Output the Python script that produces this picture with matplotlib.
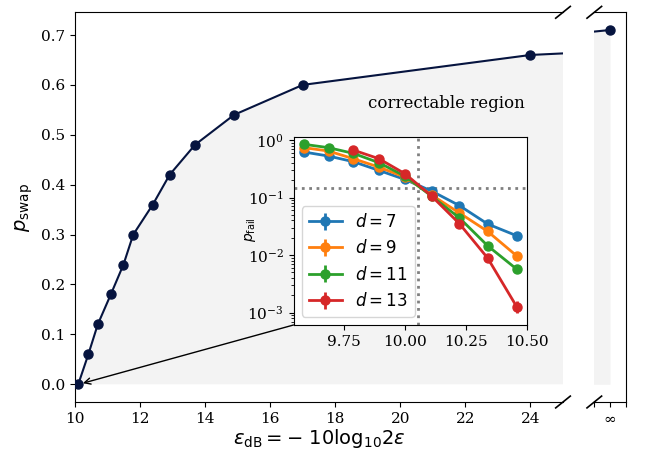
import numpy as np
import matplotlib
matplotlib.use("Agg")
import matplotlib.pyplot as plt

plt.rcParams['font.family'] = 'DejaVu Serif'
plt.rcParams['mathtext.fontset'] = 'dejavuserif'
plt.rcParams['font.size'] = 11

# main curve: eps_dB vs p_swap (last point is eps_dB = infinity, drawn at x=40)
eps_db = [10.1, 10.41, 10.7, 11.1, 11.49, 11.79, 12.39, 12.91, 13.69, 14.89, 17.0, 24.0, 40.0]
p_swap = [0.0, 0.06, 0.12, 0.18, 0.24, 0.30, 0.36, 0.42, 0.48, 0.54, 0.60, 0.66, 0.71]
inf_pos = 40.0

# inset: failure probability vs eps_dB
x_in = [9.586, 9.686, 9.788, 9.893, 10.0, 10.110, 10.223, 10.339, 10.458]
pfail = {
    7: [0.618, 0.526, 0.420, 0.296, 0.206, 0.129, 0.0725, 0.0347, 0.0217],
    9: [0.736, 0.643, 0.473, 0.338, 0.226, 0.110, 0.054, 0.0258, 0.0097],
    11: [0.841, 0.736, 0.586, 0.403, 0.235, 0.105, 0.0443, 0.0145, 0.0057],
    13: [None, None, 0.668, 0.473, 0.259, 0.105, 0.0352, 0.00887, 0.00127],
}
pfail_err = {
    7: [0.005, 0.005, 0.004, 0.003, 0.002, 0.002, 0.001, 0.0008, 0.0006],
    9: [0.005, 0.005, 0.004, 0.003, 0.002, 0.002, 0.001, 0.0006, 0.0004],
    11: [0.005, 0.005, 0.004, 0.003, 0.002, 0.002, 0.001, 0.0005, 0.0004],
    13: [None, None, 0.004, 0.003, 0.002, 0.002, 0.001, 0.0006, 0.0003],
}
inset_xticks = [9.75, 10.0, 10.25, 10.5]
threshold_x = 10.052
threshold_p = 0.148

navy = '#06143f'
fill_c = '#f3f3f3'

fig = plt.figure(figsize=(6.46, 4.62), dpi=100)
W, H = 646, 462
def box(l, t, r, b):
    return [l / W, 1 - b / H, (r - l) / W, (b - t) / H]

ax = fig.add_axes(box(75, 12.3, 563, 402))
ax2 = fig.add_axes(box(594.3, 12.3, 625.7, 402), sharey=ax)

for a in (ax, ax2):
    a.fill_between(eps_db, 0, p_swap, color=fill_c, lw=0, zorder=0)
    a.plot(eps_db, p_swap, '-o', color=navy, lw=1.5, ms=6.5, zorder=3)

ax.set_xlim(10, 25)
ax2.set_xlim(inf_pos - 1, inf_pos + 1)
ax.set_ylim(-0.0355, 0.7455)
ax.set_xticks(np.arange(10, 25, 2))
ax.set_yticks(np.arange(0, 0.75, 0.1))
ax2.set_xticks([inf_pos - 1, inf_pos, inf_pos + 1])
ax2.set_xticklabels(['', r'$\infty$', ''])
ax2.tick_params(axis='y', left=False, labelleft=False)
ax.spines['right'].set_visible(False)
ax2.spines['left'].set_visible(False)

# break marks
dx, dy = 7.3, 5.9
for a, side, w in ((ax, 1, 488), (ax2, 0, 31.4)):
    kw = dict(transform=a.transAxes, color='k', lw=1.2, clip_on=False)
    for yy in (0, 1):
        a.plot([side - dx / w, side + dx / w], [yy - dy / 389.7, yy + dy / 389.7], **kw)

ax.set_xlabel(r'$\epsilon_{\rm dB} = -\ 10{\rm log}_{10}2\epsilon$', family='DejaVu Sans',
              math_fontfamily='dejavusans', fontsize=14, labelpad=1)
ax.set_ylabel(r'$p_{\rm swap}$', family='DejaVu Sans', math_fontfamily='dejavusans', fontsize=14)

ax.text(0.76, 0.765, 'correctable region', transform=ax.transAxes, ha='center', va='center',
        fontsize=12)

# inset
axi = fig.add_axes(box(293.5, 137.3, 527.3, 325))
for d in (7, 9, 11, 13):
    xs = [x for x, p in zip(x_in, pfail[d]) if p is not None]
    ys = [p for p in pfail[d] if p is not None]
    es = [e for e in pfail_err[d] if e is not None]
    axi.errorbar(xs, ys, yerr=es, fmt='-o', lw=2, ms=6.5, label=rf'$d = {d}$')
axi.set_yscale('log')
axi.set_ylim(10 ** -3.215, 10 ** 0.047)
axi.set_xticks(inset_xticks)
axi.axvline(threshold_x, color='gray', ls=':', lw=2)
axi.axhline(threshold_p, color='gray', ls=':', lw=2)
axi.set_ylabel(r'$p_{\rm fail}$', family='DejaVu Sans', math_fontfamily='dejavusans', fontsize=10)
axi.yaxis.set_label_coords(-0.15, 0.51)
leg = axi.legend(loc='lower left', prop={'family': 'DejaVu Sans', 'size': 12})
for t in leg.get_texts():
    t.set_math_fontfamily('dejavusans')

ax.annotate('', xy=(10.12, 0.0), xytext=(0, 0), textcoords=axi.transAxes,
            arrowprops=dict(arrowstyle='->', color='k', lw=1, shrinkA=0, shrinkB=3))

fig.savefig('out.png', dpi=100)
